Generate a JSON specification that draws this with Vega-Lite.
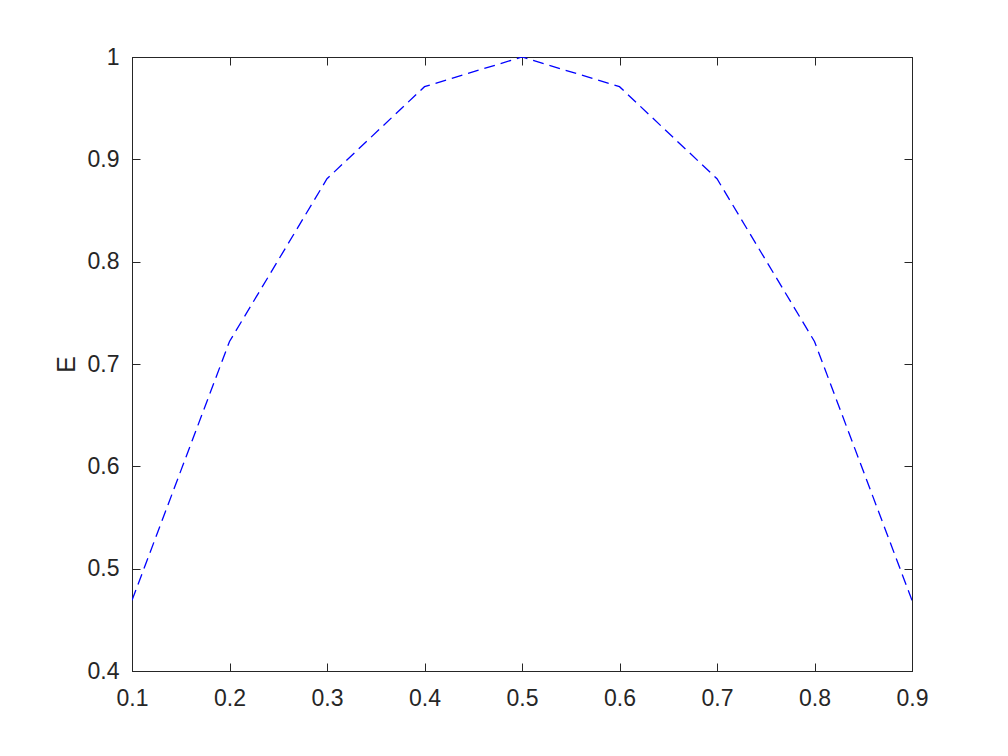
{
  "$schema": "https://vega.github.io/schema/vega-lite/v6.json",
  "autosize": "none",
  "padding": {"left": 132, "top": 57, "right": 96, "bottom": 85},
  "width": 780,
  "height": 614,
  "background": "white",
  "config": {
    "view": {"stroke": "#262626", "strokeWidth": 1}
  },
  "data": {"values": [
    {"p": 0.1, "E": 0.469},
    {"p": 0.2, "E": 0.722},
    {"p": 0.3, "E": 0.881},
    {"p": 0.4, "E": 0.971},
    {"p": 0.5, "E": 1.0},
    {"p": 0.6, "E": 0.971},
    {"p": 0.7, "E": 0.881},
    {"p": 0.8, "E": 0.722},
    {"p": 0.9, "E": 0.469}
  ]},
  "layer": [
    {
      "mark": {"type": "line", "color": "#0000ff", "strokeWidth": 1.3, "strokeDash": [11, 6], "clip": true},
      "encoding": {
        "x": {"field": "p", "type": "quantitative", "scale": {"domain": [0.1, 0.9], "nice": false},
          "axis": {"title": null, "values": [0.1,0.2,0.3,0.4,0.5,0.6,0.7,0.8,0.9], "format": ".1~f",
            "grid": false, "domainColor": "#262626", "tickColor": "#262626", "labelColor": "#262626",
            "labelFont": "Liberation Sans", "labelFontSize": 23, "labelFlush": false, "labelOverlap": false, "labelBound": false,
            "tickSize": -8, "labelPadding": 24}},
        "y": {"field": "E", "type": "quantitative", "scale": {"domain": [0.4, 1.0], "nice": false, "zero": false},
          "axis": {"title": "E", "values": [0.4,0.5,0.6,0.7,0.8,0.9,1.0], "format": ".1~f",
            "grid": false, "domainColor": "#262626", "tickColor": "#262626", "labelColor": "#262626", "titleColor": "#262626",
            "labelFont": "Liberation Sans", "labelFontSize": 23, "labelFlush": false, "labelOverlap": false, "labelBound": false,
            "titleFont": "Liberation Sans", "titleFontSize": 25, "titleFontWeight": "normal",
            "tickSize": -8, "labelPadding": 21, "titlePadding": 8}}
      }
    },
    {
      "mark": {"type": "line", "opacity": 0},
      "encoding": {
        "x": {"field": "p", "type": "quantitative", "scale": {"domain": [0.1, 0.9], "nice": false},
          "axis": {"orient": "top", "labels": false, "title": null, "grid": false, "domainColor": "#262626", "tickColor": "#262626", "tickSize": -8, "values": [0.1,0.2,0.3,0.4,0.5,0.6,0.7,0.8,0.9]}},
        "y": {"field": "E", "type": "quantitative", "scale": {"domain": [0.4, 1.0], "nice": false, "zero": false},
          "axis": {"orient": "right", "labels": false, "title": null, "grid": false, "domainColor": "#262626", "tickColor": "#262626", "tickSize": -8, "values": [0.4,0.5,0.6,0.7,0.8,0.9,1.0]}}
      }
    }
  ],
  "resolve": {"axis": {"x": "independent", "y": "independent"}}
}
